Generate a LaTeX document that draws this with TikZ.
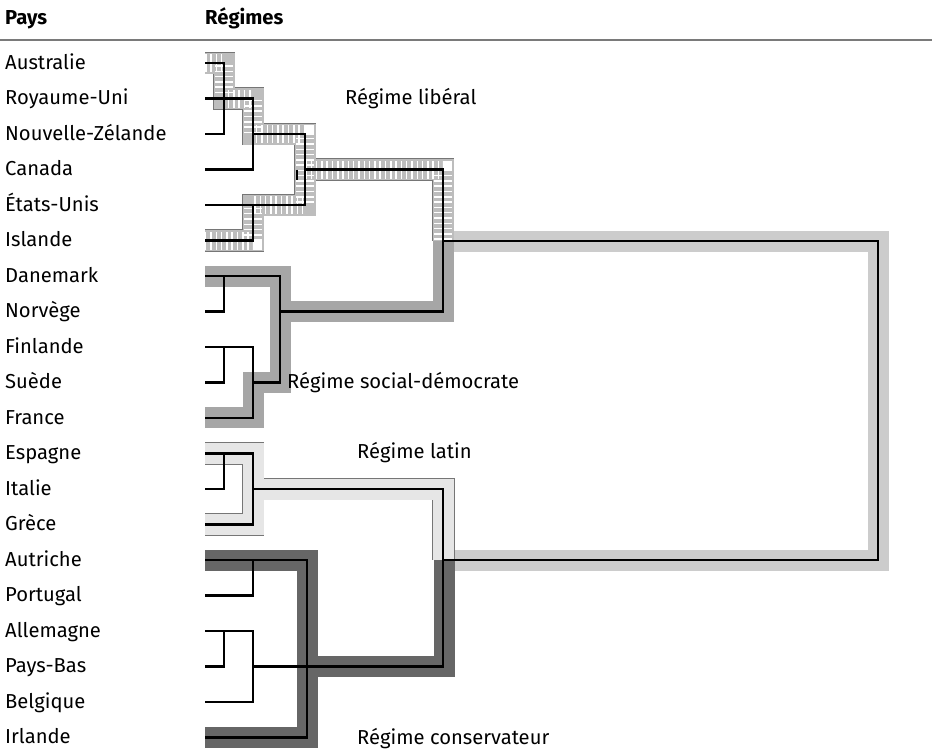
\documentclass[tikz,border=0pt]{standalone}
\usepackage{fontspec}
\setmainfont{Fira Sans}
\definecolor{libfill}{HTML}{BDBDBD}
\definecolor{libline}{HTML}{767676}
\definecolor{socfill}{HTML}{A6A6A6}
\definecolor{latfill}{HTML}{E6E6E6}
\definecolor{confill}{HTML}{666666}
\definecolor{bigfill}{HTML}{CCCCCC}
\definecolor{rulecol}{HTML}{7A7A7A}
\begin{document}
\begin{tikzpicture}[x=1pt,y=-1pt,
  lab/.style={font=\fontsize{20.2}{23}\selectfont, inner sep=0pt, anchor=base west},
  hdr/.style={font=\fontsize{20.2}{23}\selectfont\bfseries, inner sep=0pt, anchor=base west},
  reg/.style={font=\fontsize{20.2}{23}\selectfont, inner sep=0pt, anchor=base west},
  blk/.style={line width=2.5pt, black, line join=miter, line cap=butt},
  band/.style={line width=21pt, line join=miter, line cap=butt},
  bandout/.style={line width=22.6pt, line join=miter, line cap=butt, draw=libline},
  stripes/.style={line width=18pt, line join=miter, line cap=butt, draw=white, dash pattern=on 1.5pt off 3.8pt},
  rulestyle/.style={line width=1.3pt, draw=rulecol}]
\fill[white] (0,0) rectangle (932,750);
\useasboundingbox (0,0) rectangle (932,750);

% header
\node[hdr] (pays) at (5,24) {Pays};
\node[hdr] (regimes) at (205,24) {Régimes};
\draw[rulestyle] (0,40) -- (932,40);

% country labels
\node[lab] (c0) at (5,69) {Australie};
\node[lab] (c1) at (5,104.5) {Royaume-Uni};
\node[lab] (c2) at (5,140) {Nouvelle-Zélande};
\node[lab] (c3) at (5,175.5) {Canada};
\node[lab] (c4) at (5,211) {États-Unis};
\node[lab] (c5) at (5,246.5) {Islande};
\node[lab] (c6) at (5,282) {Danemark};
\node[lab] (c7) at (5,317.5) {Norvège};
\node[lab] (c8) at (5,353) {Finlande};
\node[lab] (c9) at (5,388.5) {Suède};
\node[lab] (c10) at (5,424) {France};
\node[lab] (c11) at (5,459.5) {Espagne};
\node[lab] (c12) at (5,495) {Italie};
\node[lab] (c13) at (5,530.5) {Grèce};
\node[lab] (c14) at (5,566) {Autriche};
\node[lab] (c15) at (5,601.5) {Portugal};
\node[lab] (c16) at (5,637) {Allemagne};
\node[lab] (c17) at (5,672.5) {Pays-Bas};
\node[lab] (c18) at (5,708) {Belgique};
\node[lab] (c19) at (5,743.5) {Irlande};

% big band
\draw[band, draw=bigfill] (443,241) -- (878,241) -- (878,560) -- (443,560);

% social band
\draw[band, draw=socfill] (205,276) -- (280,276) -- (280,382.5) -- (253,382.5) -- (253,417) -- (205,417);
\draw[band, draw=socfill] (280,311.5) -- (443,311.5) -- (443,241);

% conservative band
\draw[band, draw=confill] (205,560) -- (307,560) -- (307,737.5) -- (205,737.5);
\draw[band, draw=confill] (307,666.5) -- (444,666.5) -- (444,560);

% latin band
\draw[bandout] (205,453.5) -- (253,453.5) -- (253,524.5) -- (205,524.5);
\draw[bandout] (253,489) -- (443.5,489) -- (443.5,560);
\draw[band, draw=latfill] (205,453.5) -- (253,453.5) -- (253,524.5) -- (205,524.5);
\draw[band, draw=latfill] (253,489) -- (443.5,489) -- (443.5,560);

% liberal band
\draw[bandout] (205,63) -- (224,63) -- (224,98.5) -- (253,98.5) -- (253,134) -- (305,134) -- (305,169.5) -- (443,169.5) -- (443,241);
\draw[bandout] (305,169.5) -- (305,205) -- (253,205) -- (253,240.5) -- (205,240.5);
\draw[band, draw=libfill] (205,63) -- (224,63) -- (224,98.5) -- (253,98.5) -- (253,134) -- (305,134) -- (305,169.5) -- (443,169.5) -- (443,241);
\draw[band, draw=libfill] (305,169.5) -- (305,205) -- (253,205) -- (253,240.5) -- (205,240.5);
\draw[stripes] (205,63) -- (224,63) -- (224,98.5) -- (253,98.5) -- (253,134) -- (305,134) -- (305,169.5) -- (443,169.5) -- (443,240);
\draw[stripes] (305,169.5) -- (305,205) -- (253,205) -- (253,240.5) -- (205,240.5);

% black dendrogram lines
% liberal
\draw[blk] (205,63) -- (224,63) -- (224,134) -- (205,134);
\draw[blk] (205,98.5) -- (253,98.5) -- (253,169.5) -- (205,169.5);
\draw[blk] (253,134) -- (305,134) -- (305,205) -- (205,205);
\draw[blk] (205,240.5) -- (253,240.5) -- (253,205);
\draw[blk] (297,169.5) -- (297,180);
\draw[blk] (305,169.5) -- (443,169.5) -- (443,311.5) -- (280,311.5);
% social
\draw[blk] (205,276) -- (280,276) -- (280,382.5) -- (253,382.5);
\draw[blk] (224,276) -- (224,311.5) -- (205,311.5);
\draw[blk] (205,347) -- (253,347) -- (253,418) -- (205,418);
\draw[blk] (205,382.5) -- (224,382.5) -- (224,347);
% latin
\draw[blk] (205,453.5) -- (253,453.5) -- (253,524.5) -- (205,524.5);
\draw[blk] (224,453.5) -- (224,489) -- (205,489);
\draw[blk] (253,489) -- (443,489) -- (443,560);
% conservative
\draw[blk] (205,560) -- (307,560) -- (307,737.5) -- (205,737.5);
\draw[blk] (253,560) -- (253,595.5) -- (205,595.5);
\draw[blk] (205,631) -- (253,631) -- (253,702) -- (205,702);
\draw[blk] (224,631) -- (224,666.5) -- (205,666.5);
\draw[blk] (253,666.5) -- (443,666.5) -- (443,560);
% top-level
\draw[blk] (443,241) -- (878,241) -- (878,560) -- (443,560);

% regime labels
\node[reg] (rlib) at (345,104.5) {Régime libéral};
\node[reg] (rsoc) at (287,388.5) {Régime social-démocrate};
\node[reg] (rlat) at (357,458.5) {Régime latin};
\node[reg] (rcon) at (357,744) {Régime conservateur};
\end{tikzpicture}
\end{document}
